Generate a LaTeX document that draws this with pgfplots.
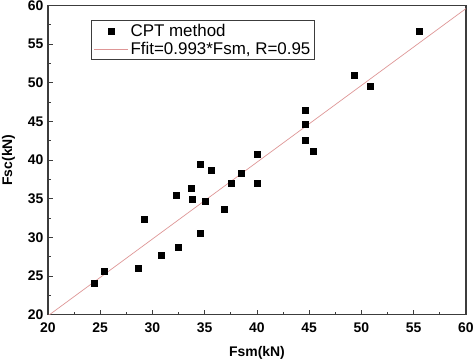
\documentclass[border=0pt]{standalone}
\usepackage{pgfplots}
\pgfplotsset{compat=1.18}
\usepackage{fontspec}
\setmainfont{Liberation Sans}
\definecolor{fitred}{RGB}{222,150,150}
\definecolor{framegray}{RGB}{60,60,60}
\begin{document}
\begin{tikzpicture}
\begin{axis}[
  at={(0,0)}, anchor=south west,
  scale only axis,
  width=418bp, height=309.4bp,
  xmin=20, xmax=60, ymin=20, ymax=60,
  xtick={20,25,...,60}, ytick={20,25,...,60},
  minor tick num=1,
  tick align=inside,
  xtick pos=left, ytick pos=left,
  major tick length=5bp, minor tick length=3bp,
  axis line style={framegray, line width=1.1pt},
  every tick/.style={framegray, line width=0.8pt},
  /pgf/number format/assume math mode=true,
  ticklabel style={font=\fontsize{14}{16}\selectfont\bfseries},
  xticklabel style={yshift=-5bp},
  yticklabel style={xshift=-1bp},
  xlabel={Fsm(kN)}, ylabel={Fsc(kN)},
  label style={font=\fontsize{14}{16}\selectfont\bfseries},
  xlabel style={yshift=-6bp},
  ylabel style={yshift=6bp},
  legend style={at={(0.104,0.951)}, anchor=north west,
    draw=framegray, line width=0.8pt,
    font=\fontsize{17}{19}\selectfont,
    nodes={font=\fontsize{17}{19}\selectfont},
    inner xsep=2bp, inner ysep=1.5bp, row sep=0bp},
  legend cell align=left,
  legend image code/.code={\draw[mark repeat=2,mark phase=2,#1] plot coordinates {(0cm,0cm) (0.6cm,0cm) (1.2cm,0cm)};},
]
\addplot[only marks, mark=square*, mark size=3bp, black] coordinates {
(24.43,24.1) (25.4,25.65) (28.6,26.0) (29.2,32.3) (30.8,27.7)
(32.5,28.7) (32.3,35.5) (33.7,36.4) (33.8,34.9) (34.6,30.5)
(35.0,34.7) (36.9,33.7) (37.5,37.0) (40.0,37.0) (34.6,39.4)
(35.6,38.7) (38.5,38.3) (40.0,40.7) (44.6,46.5) (44.6,44.6)
(44.6,42.6) (45.4,41.1) (49.3,51.0) (50.8,49.6) (55.5,56.7)
};
\addlegendentry{CPT method}
\addplot[fitred, line width=0.7pt, no marks] coordinates {(20,19.86) (60,59.58)};
\addlegendentry{Ffit=0.993*Fsm, R=0.95\hspace{32bp}}
\end{axis}
\pgfresetboundingbox
\path (-48bp,-44.3bp) rectangle (426bp,314.7bp);
\end{tikzpicture}
\end{document}
